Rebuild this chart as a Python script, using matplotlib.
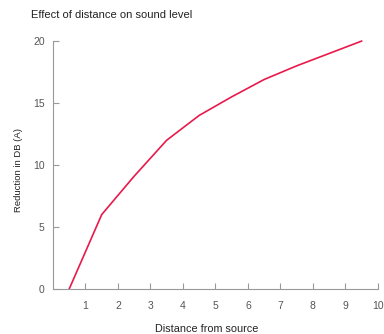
import matplotlib
matplotlib.use("Agg")
import matplotlib.pyplot as plt

# data
distance = [0.5, 1.5, 2.5, 3.5, 4.5, 5.5, 6.5, 7.5, 8.5, 9.5]
reduction = [0, 6.0, 9.1, 12.0, 14.0, 15.5, 16.9, 18.0, 19.0, 20.0]
xticks = [1, 2, 3, 4, 5, 6, 7, 8, 9, 10]
yticks = [0, 5, 10, 15, 20]

plt.rcParams['font.family'] = ['Liberation Sans', 'DejaVu Sans']

fig = plt.figure(figsize=(3.84, 3.34), dpi=100)
ax = fig.add_axes([0.138, 0.135, 0.846, 0.742])

ax.plot(distance, reduction, color='#e8194b', linewidth=1.2, clip_on=False)

ax.set_xlim(0, 10)
ax.set_ylim(0, 20)
ax.set_xticks(xticks)
ax.set_yticks(yticks)
ax.tick_params(direction='in', length=4, width=0.8, colors='#999999',
               labelcolor='#555555', labelsize=7.5)
ax.tick_params(axis='y', pad=6)
ax.tick_params(axis='x', pad=9)

for s in ['top', 'right']:
    ax.spines[s].set_visible(False)
for s in ['left', 'bottom']:
    ax.spines[s].set_color('#999999')
    ax.spines[s].set_linewidth(0.8)

# label sits near the figure edge, as in the reference
ax.set_xlabel('Distance from source', fontsize=7.8, color='#222222')
ax.xaxis.set_label_coords(0.472, -0.14)
ax.set_ylabel('Reduction in DB (A)', fontsize=6.8, color='#222222')
ax.yaxis.set_label_coords(-0.093, 0.48)
fig.text(0.081, 0.955, 'Effect of distance on sound level', fontsize=8,
         color='#222222', ha='left', va='center')

fig.savefig('out.png', dpi=100)
